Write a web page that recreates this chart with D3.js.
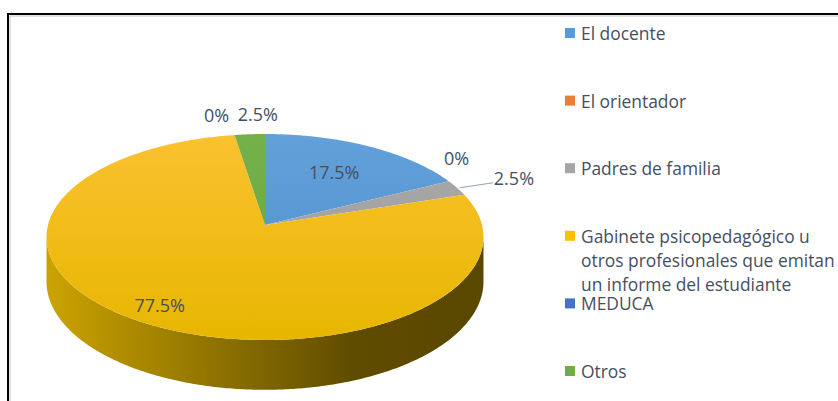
<!DOCTYPE html>
<html lang="es">
<head>
<meta charset="UTF-8">
<script src="https://d3js.org/d3.v7.min.js"></script>
<style>
    body { margin: 0; background: #fff; }
    svg { display: block; font-family: "Open Sans", sans-serif; }
    .label { font-size: 18px; fill: #45505f; }
    .legend text { font-size: 17.4px; fill: #45505f; }
</style>
</head>
<body>
<div id="chart"></div>
<script>
    // datos
    const categories = ["El docente", "El orientador", "Padres de familia",
        "Gabinete psicopedagógico u\notros profesionales que emitan\nun informe del estudiante",
        "MEDUCA", "Otros"];
    const values = [17.5, 0, 2.5, 77.5, 0, 2.5];
    const labels = ["17.5%", "0%", "2.5%", "77.5%", "0%", "2.5%"];
    const colors = ["#5b9bd5", "#ed7d31", "#a5a5a5", "#ffc000", "#4472c4", "#70ad47"];

    const width = 838, height = 401;
    const cx = 265, cy = 225, rx = 217, ry = 101.6, D = 8.58, depth = 44;

    const svg = d3.select("#chart").append("svg")
        .attr("width", width).attr("height", height);

    // proyeccion con perspectiva de un punto del disco (angulo desde arriba, horario)
    function project(a, k = 1) {
        const u = k * Math.sin(a), v = -k * Math.cos(a);
        const w = D / (D - v);
        return [cx + rx * u * w, cy + ry * v * w, w];
    }

    const defs = svg.append("defs");
    const grad = (id, attrs, stops) => {
        const g = defs.append("linearGradient").attr("id", id).attr("gradientUnits", "userSpaceOnUse");
        Object.entries(attrs).forEach(([k, v]) => g.attr(k, v));
        stops.forEach(([o, c]) => g.append("stop").attr("offset", o).attr("stop-color", c));
    };
    grad("side", {x1: cx - rx, x2: cx + rx, y1: 0, y2: 0},
        [[0, "#cba300"], [0.35, "#947700"], [0.7, "#604c00"], [1, "#5a4700"]]);
    const topShade = {
        "#ffc000": ["#fcc232", "#e7b600"],
        "#5b9bd5": ["#64a2da", "#4a8ccd"],
        "#70ad47": ["#76b24c", "#66a33e"],
        "#a5a5a5": ["#a8a8a8", "#9e9e9e"],
        "#ed7d31": ["#ed7d31", "#e07028"],
        "#4472c4": ["#4472c4", "#3c68b8"]
    };
    colors.forEach((c, i) => grad("top" + i, {x1: 0, x2: 0, y1: cy - ry, y2: cy + ry * 1.13},
        [[0, topShade[c][0]], [1, topShade[c][1]]]));

    const pie = d3.pie().sort(null).value(d => d)(values);
    const line = d3.line();

    // pared lateral (frente), entre los puntos extremos en x
    const samples = d3.range(0, 2 * Math.PI, 0.001);
    const aRight = samples.reduce((b, a) => project(a)[0] > project(b)[0] ? a : b, 0);
    const aLeft = samples.reduce((b, a) => project(a)[0] < project(b)[0] ? a : b, 0);
    const front = d3.range(aRight, aLeft, 0.01).concat([aLeft]);
    const sidePts = front.map(a => project(a).slice(0, 2))
        .concat(front.slice().reverse().map(a => {
            const p = project(a);
            return [p[0], p[1] + depth * p[2]];
        }));
    svg.append("path").attr("d", line(sidePts) + "Z").attr("fill", "url(#side)");

    // caras superiores
    svg.selectAll(".slice").data(pie).enter().append("path")
        .attr("class", "slice")
        .attr("d", d => {
            if (d.endAngle - d.startAngle <= 0) return null;
            const pts = [[cx, cy]];
            const n = Math.max(2, Math.ceil((d.endAngle - d.startAngle) / 0.01));
            for (let i = 0; i <= n; i++) {
                const a = d.startAngle + (d.endAngle - d.startAngle) * i / n;
                pts.push(project(a).slice(0, 2));
            }
            return line(pts) + "Z";
        })
        .attr("fill", (d, i) => `url(#top${i})`);

    // etiquetas de datos
    const labelCfg = [
        {k: 0.65}, {k: 1, dx: 8, dy: -23}, {k: 1, dx: 57, dy: -10, leader: true},
        {k: 0.85}, {k: 1, dx: -18, dy: -20}, {k: 1, dx: 8, dy: -20}
    ];
    pie.forEach((d, i) => {
        const c = labelCfg[i];
        const mid = (d.startAngle + d.endAngle) / 2;
        const p = project(mid, c.k);
        const x = p[0] + (c.dx || 0), y = p[1] + (c.dy || 0);
        if (c.leader) {
            svg.append("path")
                .attr("d", line([[p[0] + 3, p[1]], [x - 21, y + 5]]))
                .attr("stroke", "#8fa2bb").attr("stroke-width", 1).attr("fill", "none");
        }
        svg.append("text").attr("class", "label")
            .attr("x", x).attr("y", y)
            .attr("text-anchor", "middle").attr("dominant-baseline", "central")
            .text(labels[i]);
    });

    // leyenda
    const ly = d3.scalePoint().domain(categories).range([33, 371]);
    const leg = svg.append("g").attr("class", "legend");
    categories.forEach((c, i) => {
        const y = ly(c);
        leg.append("rect").attr("x", 565).attr("y", y - 5).attr("width", 10).attr("height", 10)
            .attr("fill", colors[i]);
        const t = leg.append("text").attr("x", 581).attr("y", y).attr("dominant-baseline", "central");
        c.split("\n").forEach((s, j) => {
            t.append("tspan").attr("x", 581).attr("y", y + j * 24).text(s);
        });
    });

    // borde del area del grafico
    svg.append("path")
        .attr("d", `M8,${height + 5}V14H${width + 5}`)
        .attr("fill", "none").attr("stroke", "#000").attr("stroke-width", 2);
    svg.append("path")
        .attr("d", `M10,${height + 5}V16H${width + 5}`)
        .attr("fill", "none").attr("stroke", "#c8c8c8").attr("stroke-width", 1);
</script>
</body>
</html>
